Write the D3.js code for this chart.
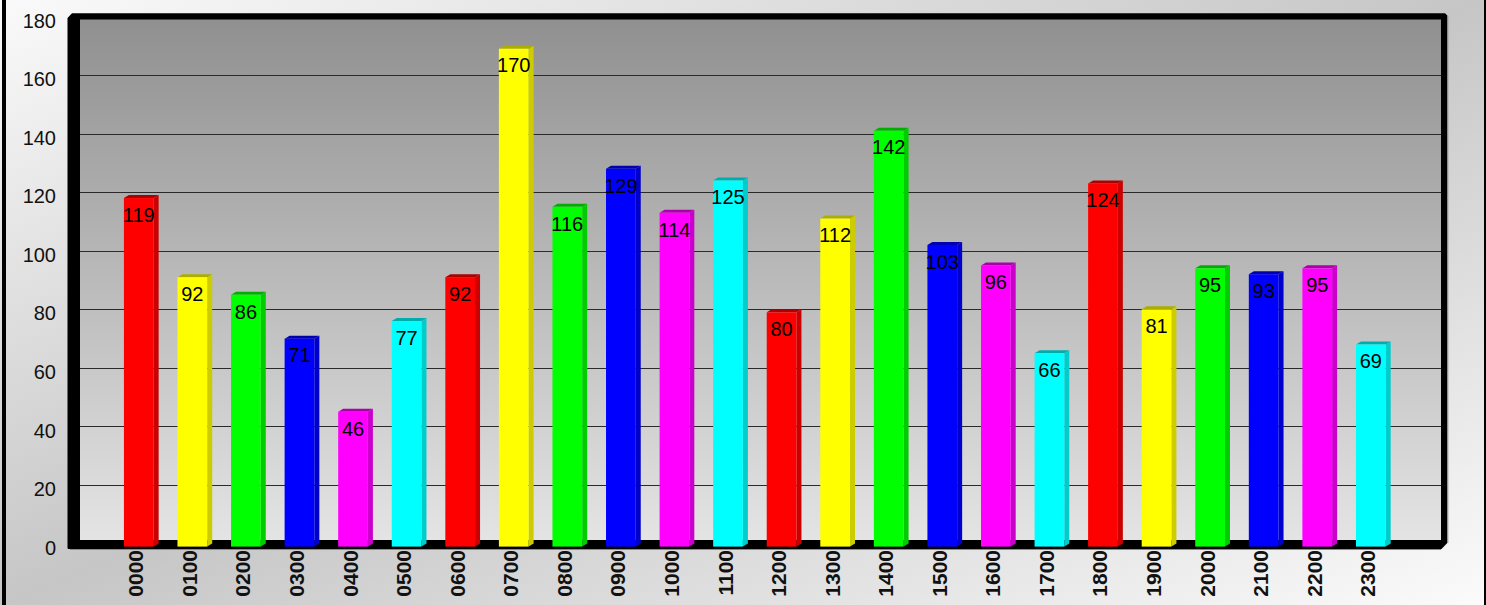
<!DOCTYPE html>
<html>
<head>
<meta charset="utf-8">
<script src="https://cdn.jsdelivr.net/npm/d3@7"></script>
<style>
  html, body { margin: 0; padding: 0; overflow: hidden; }
  svg { display: block; }
</style>
</head>
<body>
<svg id="chart" width="1486" height="605"></svg>
<script>
const categories = ["0000","0100","0200","0300","0400","0500","0600","0700","0800","0900","1000","1100",
                    "1200","1300","1400","1500","1600","1700","1800","1900","2000","2100","2200","2300"];
const values = [119, 92, 86, 71, 46, 77, 92, 170, 116, 129, 114, 125,
                80, 112, 142, 103, 96, 66, 124, 81, 95, 93, 95, 69];
const barColors = ["#ff0000", "#ffff00", "#00ff00", "#0000ff", "#ff00ff", "#00ffff"];
const yTicks = [0, 20, 40, 60, 80, 100, 120, 140, 160, 180];

const W = 1486, H = 605;
const svg = d3.select("#chart");
const defs = svg.append("defs");

// background gradient (diagonal, light at TL and BR corners)
const bg = defs.append("linearGradient").attr("id", "bgGrad")
  .attr("x1", 0).attr("y1", 0).attr("x2", 1).attr("y2", 1);
bg.append("stop").attr("offset", "0").attr("stop-color", "#fafafa");
bg.append("stop").attr("offset", "0.5").attr("stop-color", "#c6c6c6");
bg.append("stop").attr("offset", "1").attr("stop-color", "#fbfbfb");

// wall gradient
const wg = defs.append("linearGradient").attr("id", "wallGrad")
  .attr("x1", 0).attr("y1", 0).attr("x2", 0).attr("y2", 1);
wg.append("stop").attr("offset", "0").attr("stop-color", "#909090");
wg.append("stop").attr("offset", "1").attr("stop-color", "#e4e4e4");

svg.append("rect").attr("width", W).attr("height", H).attr("fill", "url(#bgGrad)");
svg.append("rect").attr("x", 2).attr("y", 0).attr("width", 4).attr("height", H).attr("fill", "#000");
svg.append("rect").attr("x", 1484).attr("y", 0).attr("width", 2).attr("height", H).attr("fill", "#000");

// scales
const y = d3.scaleLinear().domain([0, 180]).range([543.6, 16.4]);
const x = d3.scaleBand().domain(categories).range([112, 1397.6])
  .paddingInner(0.445).paddingOuter(0.2225);
const bw = x.bandwidth();
const dx = 5, dy = 3; // 3D depth offset (back is right/up of front)

const wallL = 80, wallR = 1441, wallT = 19.5, wallB = 540;

// frame (black 3D walls)
svg.append("path")
  .attr("d", `M67.5,18 L72,13.3 L1445,13.3 L1447.3,15.5 L1447.3,543 L1441.5,549 L68,549 L67.5,548 Z`)
  .attr("fill", "#000");
// shadow lines
svg.append("line").attr("x1", 70).attr("x2", 1441).attr("y1", 549.5).attr("y2", 549.5)
  .attr("stroke", "#8a8a8a").attr("stroke-width", 1);
svg.append("line").attr("x1", 1447.8).attr("x2", 1447.8).attr("y1", 16).attr("y2", 543)
  .attr("stroke", "#8a8a8a").attr("stroke-width", 1);

// back wall
svg.append("rect").attr("x", wallL).attr("y", wallT)
  .attr("width", wallR - wallL).attr("height", wallB - wallT)
  .attr("fill", "url(#wallGrad)");

// gridlines
svg.append("g").selectAll("line")
  .data(yTicks.filter(v => v > 0 && v < 180))
  .join("line")
  .attr("x1", wallL).attr("x2", wallR)
  .attr("y1", d => Math.round(y(d)) + 0.5).attr("y2", d => Math.round(y(d)) + 0.5)
  .attr("stroke", "#2a2a2a").attr("stroke-width", 1);

// y axis labels
const yAxis = d3.axisLeft(y).tickValues(yTicks).tickSize(0).tickPadding(0);
const yg = svg.append("g").attr("transform", "translate(56,3.5)").call(yAxis);
yg.select(".domain").remove();
yg.selectAll("text")
  .attr("font-family", "'Liberation Sans', Arial, sans-serif")
  .attr("font-size", 20).attr("fill", "#111").attr("dy", "0.36em");

// bars
const data = categories.map((c, i) => ({ c, v: values[i], col: barColors[i % barColors.length] }));
const shade = (c, k) => { const r = d3.rgb(c); return d3.rgb(r.r * k, r.g * k, r.b * k).toString(); };
const bars = svg.append("g").selectAll("g").data(data).join("g");
bars.append("path") // side face
  .attr("d", d => {
    const x0 = x(d.c) + bw, yt = y(d.v) + dy, yb = y(0) + dy;
    return `M${x0},${yt} L${x0 + dx},${yt - dy} L${x0 + dx},${yb - dy} L${x0},${yb} Z`;
  })
  .attr("fill", d => shade(d.col, 0.8));
bars.append("path") // top face
  .attr("d", d => {
    const x0 = x(d.c), yt = y(d.v) + dy;
    return `M${x0},${yt} L${x0 + dx},${yt - dy} L${x0 + bw + dx},${yt - dy} L${x0 + bw},${yt} Z`;
  })
  .attr("fill", d => shade(d.col, 0.68));
bars.append("rect") // front face
  .attr("x", d => x(d.c)).attr("y", d => y(d.v) + dy)
  .attr("width", bw).attr("height", d => y(0) - y(d.v))
  .attr("fill", d => d.col);

// value labels
svg.append("g").selectAll("text").data(data).join("text")
  .attr("x", d => x(d.c) + bw / 2)
  .attr("y", d => y(d.v) + 26.8)
  .attr("text-anchor", "middle")
  .attr("font-family", "'Liberation Sans', Arial, sans-serif")
  .attr("font-size", 20).attr("fill", "#000")
  .text(d => d.v);

// x axis labels
const xAxis = d3.axisBottom(x).tickSize(0).tickPadding(0);
const xg = svg.append("g").attr("transform", "translate(0,550)").call(xAxis);
xg.select(".domain").remove();
xg.selectAll("text")
  .attr("transform", "rotate(-90)")
  .attr("text-anchor", "end")
  .attr("x", 0).attr("y", 4.5).attr("dy", null)
  .attr("font-family", "'Liberation Sans', Arial, sans-serif")
  .attr("font-weight", "bold")
  .attr("font-size", 21).attr("fill", "#111");
</script>
</body>
</html>
